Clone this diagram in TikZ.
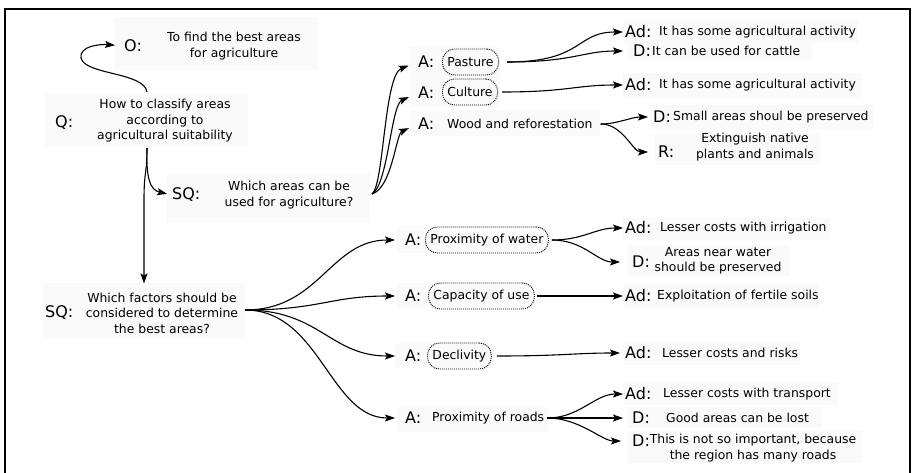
\documentclass[tikz,border=0pt]{standalone}
\usepackage{fontspec}
\setmainfont{DejaVu Sans}
\usetikzlibrary{arrows.meta}
\begin{document}
\begin{tikzpicture}[x=1pt,y=-1pt,
  lbl/.style={font=\fontsize{16}{18}\selectfont, inner sep=0pt, anchor=west},
  txt/.style={font=\fontsize{12.4}{15.5}\selectfont, inner sep=0pt, align=center},
  opt/.style={txt, draw, line width=0.9pt, dash pattern=on 1pt off 1pt,
              rounded corners=12pt, minimum height=26pt, inner xsep=5pt, anchor=west},
  arr/.style={line width=1.1pt, -{Stealth[length=10pt,width=7pt,inset=2pt]}},
  bg/.style={fill=black!2, draw=none}]
\useasboundingbox (0,0) rectangle (912,473);

% faint panels behind the text groups
\foreach \a/\b/\c/\d in {115/17/318/70, 45/93/248/147, 167/173/370/222,
    410/47/500/107, 410/110/600/136, 623/20/858/43, 628/43/812/60,
    623/73/862/98, 650/105/874/129, 655/133/820/165, 43/283/245/338,
    397/226/552/253, 397/283/533/308, 395/343/493/368, 397/407/548/432,
    623/218/830/240, 628/245/790/276, 623/284/818/308, 623/341/800/365,
    623/383/838/405, 628/407/822/428, 628/431/862/463}
  \fill[bg] (\a,\b) rectangle (\c,\d);

% frame (open at the bottom)
\draw[line width=2pt] (5,473) -- (5,9) -- (910,9) -- (910,473);

% question, objective and sub-questions
\node[lbl] (O) at (124,46) {O:};
\node[txt] (oTxt) at (234,46) {To find the best areas\\for agriculture};
\node[lbl] (Q) at (55,123) {Q:};
\node[txt] (qTxt) at (165,121) {How to classify areas\\according to\\agricultural suitability};
\node[lbl] (SQa) at (172,195) {SQ:};
\node[txt] (sqaTxt) at (289,195) {Which areas can be\\used for agriculture?};
\node[lbl] (SQb) at (45,313) {SQ:};
\node[txt] (sqbTxt) at (162,313) {Which factors should be\\considered to determine\\the best areas?};

% answers to the first sub-question
\node[lbl] (Aa) at (418,62) {A:};
\node[opt] (pasture) at (442,62) {Pasture};
\node[lbl] (Ab) at (418,93) {A:};
\node[opt] (culture) at (442,92) {Culture};
\node[lbl] (Ac) at (418,124) {A:};
\node[txt, anchor=west] (wood) at (447,124) {Wood and reforestation};

\node[lbl] (adA) at (625,32) {Ad:};
\node[txt, anchor=west] (adAt) at (659,32) {It has some agricultural activity};
\node[lbl] (dA) at (633,51) {D:};
\node[txt, anchor=west] (dAt) at (652,51) {It can be used for cattle};
\node[lbl] (adB) at (625,85) {Ad:};
\node[txt, anchor=west] (adBt) at (659,85) {It has some agricultural activity};
\node[lbl] (dC) at (653,117) {D:};
\node[txt, anchor=west] (dCt) at (673,117) {Small areas shoul be preserved};
\node[lbl] (rC) at (658,152) {R:};
\node[txt] (rCt) at (755,147) {Extinguish native\\plants and animals};

% answers to the second sub-question
\node[lbl] (Ad) at (405,240) {A:};
\node[opt] (water) at (425,240) {Proximity of water};
\node[lbl] (Ae) at (405,296) {A:};
\node[opt] (capacity) at (428,296) {Capacity of use};
\node[lbl] (Af) at (405,356) {A:};
\node[opt] (declivity) at (427,356) {Declivity};
\node[lbl] (Ag) at (405,418) {A:};
\node[txt, anchor=west] (roads) at (432,418) {Proximity of roads};

\node[lbl] (adD) at (625,228) {Ad:};
\node[txt, anchor=west] (adDt) at (660,228) {Lesser costs with irrigation};
\node[lbl] (dD) at (632,262) {D:};
\node[txt] (dDt) at (718,261) {Areas near water\\should be preserved};
\node[lbl] (adE) at (625,296) {Ad:};
\node[txt, anchor=west] (adEt) at (657,296) {Exploitation of fertile soils};
\node[lbl] (adF) at (625,353) {Ad:};
\node[txt, anchor=west] (adFt) at (662,353) {Lesser costs and risks};
\node[lbl] (adG) at (625,394) {Ad:};
\node[txt, anchor=west] (adGt) at (663,394) {Lesser costs with transport};
\node[lbl] (dG) at (632,418) {D:};
\node[txt, anchor=west] (dGt) at (666,418) {Good areas can be lost};
\node[lbl] (dH) at (632,441) {D:};
\node[txt] (dHt) at (753,448) {This is not so important, because\\the region has many roads};

% branching points
\coordinate (qTop) at (147,92);
\coordinate (qBot) at (147,148);
\coordinate (sqaOut) at (372,194);
\coordinate (sqbOut) at (245,310);

% connectors
\draw[arr, shorten >=9pt] (qTop) .. controls (144,72) and (85,75) .. (81,58)
      .. controls (79,46) and (100,44) .. (O.west);
\draw[arr, shorten >=5pt] (qBot) .. controls (146,178) and (150,190) .. (SQa.west);
\draw[arr, shorten >=9pt] (qBot) .. controls (147,175) and (144,170) .. (144,200)
      -- (sqbTxt.north -| 144,0);

\draw[arr, shorten >=10pt] (sqaOut) .. controls (384,185) and (384,75) .. (Aa.west);
\draw[arr, shorten >=10pt] (sqaOut) .. controls (388,185) and (391,105) .. (Ab.west);
\draw[arr, shorten >=10pt] (sqaOut) .. controls (392,188) and (396,134) .. (Ac.west);

\draw[arr, shorten <=8pt, shorten >=2pt] (pasture.east) .. controls +(85,0) and +(-50,0) .. (adA.west);
\draw[arr, shorten <=8pt, shorten >=10pt] (pasture.east) .. controls +(75,0) and +(-50,0) .. (dA.west);
\draw[arr, shorten <=4pt, shorten >=2pt] (culture.east) .. controls +(70,0) and +(-50,0) .. (adB.west);
\draw[arr, shorten <=8pt, shorten >=5pt] (wood.east) .. controls +(25,0) and +(-22,0) .. (dC.west);
\draw[arr, shorten <=8pt, shorten >=10pt] (wood.east) .. controls +(30,0) and +(-25,0) .. (rC.west);

\foreach \t in {Ad,Ae,Af,Ag}
  \draw[arr, shorten >=10pt] (sqbOut) .. controls +(75,0) and +(-75,0) .. (\t.west);

\draw[arr, shorten <=3pt, shorten >=2pt] (water.east) .. controls +(35,0) and +(-30,0) .. (adD.west);
\draw[arr, shorten <=3pt, shorten >=12pt] (water.east) .. controls +(35,0) and +(-35,0) .. (dD.west);
\draw[arr, shorten <=2pt, shorten >=2pt] (capacity.east) -- (adE.west);
\draw[arr, shorten <=5pt, shorten >=5pt] (declivity.east) .. controls +(70,0) and +(-50,0) .. (adF.west);
\draw[arr, shorten <=3pt, shorten >=2pt] (roads.east) .. controls +(35,0) and +(-30,0) .. (adG.west);
\draw[arr, shorten <=3pt, shorten >=9pt] (roads.east) -- (dG.west);
\draw[arr, shorten <=3pt, shorten >=11pt] (roads.east) .. controls +(35,0) and +(-30,0) .. (dH.west);
\end{tikzpicture}
\end{document}
